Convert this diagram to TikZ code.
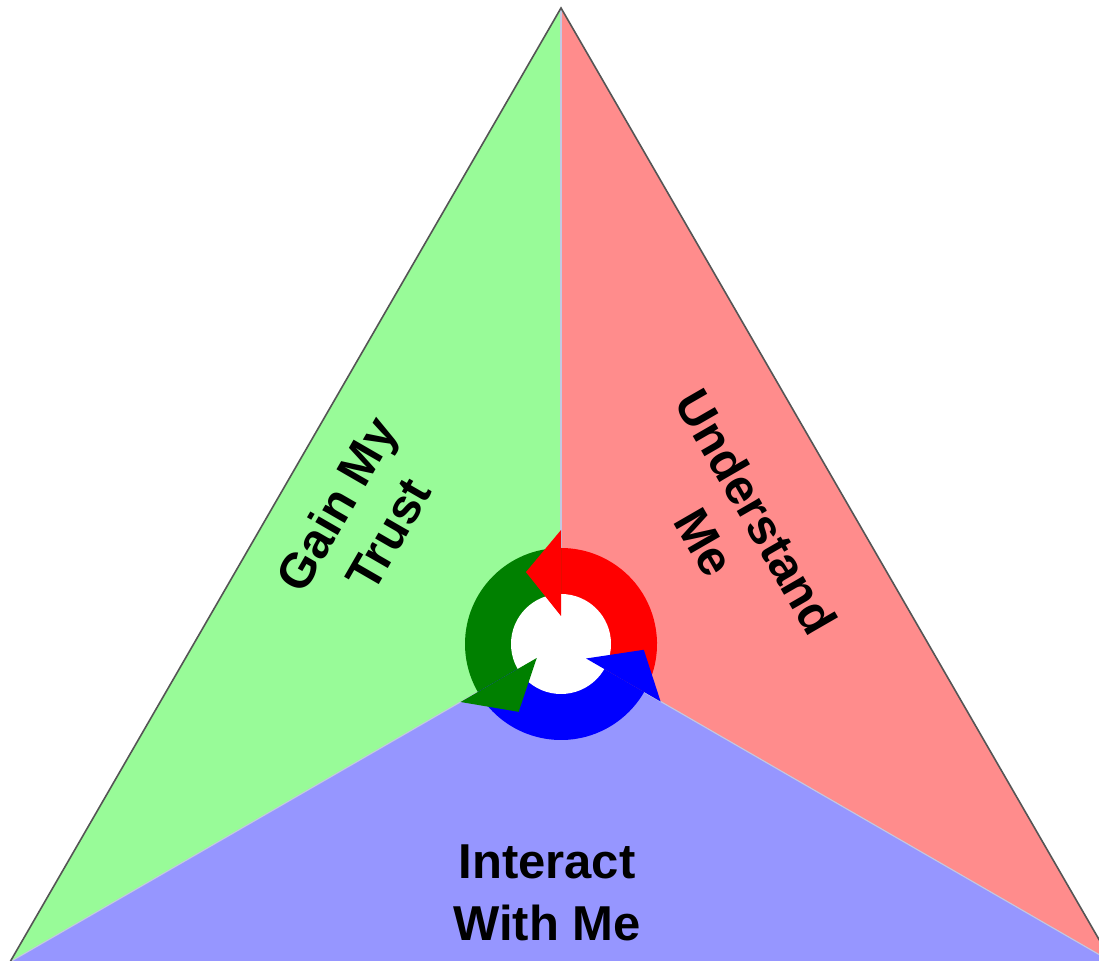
\documentclass[tikz,border=0pt]{standalone}
\usepackage{fontspec}
\setmainfont{Liberation Sans}
\definecolor{regGreen}{RGB}{152,251,152}
\definecolor{regRed}{RGB}{255,140,140}
\definecolor{regBlue}{RGB}{150,150,255}
\definecolor{arrRed}{RGB}{255,0,0}
\definecolor{arrGreen}{RGB}{0,128,0}
\definecolor{arrBlue}{RGB}{0,0,255}
\definecolor{edgeGray}{RGB}{85,85,85}
\definecolor{seam}{RGB}{195,200,225}
\tikzset{
  region/.style={draw=none},
  outeredge/.style={draw=edgeGray,line width=1.6pt,line cap=round},
  seamline/.style={draw=seam,line width=1.1pt},
  label/.style={font=\bfseries\fontsize{49}{60}\selectfont,align=center,inner sep=0pt,text=black},
}
\begin{document}
\begin{tikzpicture}[x=1pt,y=1pt]
\useasboundingbox (0,0) rectangle (1099,960);
\clip (0,0) rectangle (1099,960);
\fill[white] (0,0) rectangle (1099,960);
\coordinate (T) at (561,952);
\coordinate (BL) at (10,-2);
\coordinate (BR) at (1112,-2);
\coordinate (C) at (561,316);
% regions
\fill[regGreen] (T) -- (C) -- (BL) -- cycle;
\fill[regRed] (T) -- (BR) -- (C) -- cycle;
\fill[regBlue] (BL) -- (BR) -- (C) -- cycle;
% seams
\draw[seamline] (C) -- (T);
\draw[seamline] (C) -- (BL);
\draw[seamline] (C) -- (BR);
% outer edges
\draw[outeredge] (BL) -- (T) -- (BR);
% cycle ring
\begin{scope}[shift={(561,316)}]
  \fill[arrRed] (0,0) -- (-30:96) arc[start angle=-30,end angle=90,radius=96] -- cycle;
  \fill[arrGreen] (0,0) -- (90:96) arc[start angle=90,end angle=210,radius=96] -- cycle;
  \fill[arrBlue] (0,0) -- (210:96) arc[start angle=210,end angle=330,radius=96] -- cycle;
  \fill[white] (0,0) circle[radius=50];
  \fill[arrRed] (90:28) -- (90:114) -- (116:80) -- cycle;
  \fill[arrGreen] (210:28) -- (210:116) -- (238:80) -- cycle;
  \fill[arrBlue] (330:29) -- (330:115) -- (356:83) -- cycle;
\end{scope}
% labels
\node[label,rotate=60] (trust) at (362,441) {Gain My\\Trust};
\node[label,rotate=-60] (understand) at (731,433) {Understand\\Me};
\node[label,font=\bfseries\fontsize{49}{62}\selectfont] (interact) at (547,67) {Interact\\With Me};
\end{tikzpicture}
\end{document}
